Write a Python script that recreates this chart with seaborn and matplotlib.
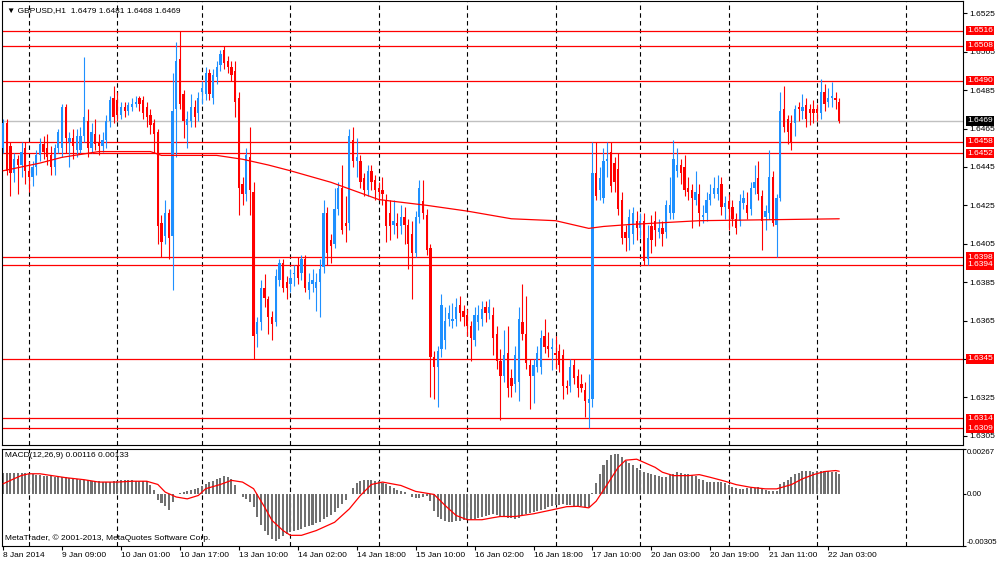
import matplotlib
matplotlib.use("Agg")
import numpy as np
import pandas as pd
import matplotlib.pyplot as plt
import seaborn as sns

# GBPUSD H1 candles, one entry per hourly bar (8 Jan 17:00 .. 22 Jan 07:00)
opens = [
    1.6455, 1.6468, 1.6456, 1.6442, 1.6449, 1.6446, 1.6455, 1.6443, 1.6440, 1.6445,
    1.6451, 1.6457, 1.6455, 1.6451, 1.6445, 1.6455, 1.6455, 1.6476, 1.6458, 1.6460,
    1.6454, 1.6454, 1.6461, 1.6469, 1.6455, 1.6462, 1.6458, 1.6456, 1.6459, 1.6469,
    1.6481, 1.6480, 1.6472, 1.6476, 1.6474, 1.6476, 1.6478, 1.6481, 1.6480, 1.6476,
    1.6472, 1.6468, 1.6463, 1.6416, 1.6409, 1.6421, 1.6409, 1.6475, 1.6501, 1.6483,
    1.6467, 1.6469, 1.6476, 1.6473, 1.6484, 1.6483, 1.6494, 1.6481, 1.6492, 1.6498,
    1.6506, 1.6500, 1.6497, 1.6495, 1.6481, 1.6436, 1.6431, 1.6450, 1.6432, 1.6358,
    1.6364, 1.6382, 1.6376, 1.6367, 1.6364, 1.6386, 1.6395, 1.6385, 1.6384, 1.6389,
    1.6394, 1.6390, 1.6397, 1.6381, 1.6384, 1.6382, 1.6385, 1.6393, 1.6421, 1.6407,
    1.6405, 1.6423, 1.6434, 1.6416, 1.6416, 1.6459, 1.6448, 1.6448, 1.6439, 1.6433,
    1.6443, 1.6438, 1.6434, 1.6433, 1.6428, 1.6421, 1.6415, 1.6416, 1.6414, 1.6419,
    1.6415, 1.6410, 1.6400, 1.6419, 1.6427, 1.6420, 1.6403, 1.6346, 1.6341, 1.6350,
    1.6355, 1.6366, 1.6365, 1.6366, 1.6373, 1.6370, 1.6368, 1.6362, 1.6355, 1.6364,
    1.6366, 1.6372, 1.6369, 1.6368, 1.6358, 1.6344, 1.6336, 1.6348, 1.6335, 1.6332,
    1.6333, 1.6364, 1.6358, 1.6342, 1.6336, 1.6341, 1.6341, 1.6357, 1.6352, 1.6350,
    1.6348, 1.6349, 1.6347, 1.6331, 1.6331, 1.6342, 1.6336, 1.6332, 1.6329, 1.6322,
    1.6324, 1.6442, 1.6433, 1.6429, 1.6448, 1.6453, 1.6447, 1.6444, 1.6428, 1.6411,
    1.6408, 1.6410, 1.6417, 1.6413, 1.6417, 1.6397, 1.6414, 1.6417, 1.6411, 1.6413,
    1.6411, 1.6421, 1.6421, 1.6443, 1.6446, 1.6445, 1.6434, 1.6433, 1.6428, 1.6431,
    1.6419, 1.6421, 1.6428, 1.6431, 1.6431, 1.6436, 1.6424, 1.6427, 1.6424, 1.6418,
    1.6417, 1.6426, 1.6425, 1.6423, 1.6434, 1.6439, 1.6430, 1.6419, 1.6421, 1.6440,
    1.6415, 1.6429, 1.6475, 1.6470, 1.6468, 1.6468, 1.6476, 1.6474, 1.6477, 1.6475,
    1.6475, 1.6475, 1.6473, 1.6484, 1.6479, 1.6481, 1.6481, 1.6479,
]
highs = [
    1.6470, 1.6470, 1.6458, 1.6452, 1.6451, 1.6458, 1.6458, 1.6448, 1.6448, 1.6454,
    1.6460, 1.6461, 1.6462, 1.6456, 1.6457, 1.6465, 1.6478, 1.6478, 1.6463, 1.6465,
    1.6465, 1.6466, 1.6502, 1.6475, 1.6468, 1.6470, 1.6462, 1.6463, 1.6472, 1.6482,
    1.6487, 1.6484, 1.6479, 1.6479, 1.6479, 1.6481, 1.6482, 1.6482, 1.6482, 1.6479,
    1.6475, 1.6470, 1.6465, 1.6420, 1.6428, 1.6423, 1.6494, 1.6510, 1.6516, 1.6485,
    1.6474, 1.6483, 1.6480, 1.6484, 1.6490, 1.6497, 1.6496, 1.6496, 1.6500, 1.6506,
    1.6508, 1.6503, 1.6500, 1.6500, 1.6484, 1.6440, 1.6455, 1.6466, 1.6437, 1.6367,
    1.6386, 1.6389, 1.6378, 1.6370, 1.6392, 1.6397, 1.6397, 1.6388, 1.6392, 1.6394,
    1.6398, 1.6399, 1.6399, 1.6390, 1.6392, 1.6390, 1.6397, 1.6428, 1.6424, 1.6410,
    1.6434, 1.6437, 1.6446, 1.6430, 1.6465, 1.6466, 1.6460, 1.6451, 1.6442, 1.6446,
    1.6446, 1.6441, 1.6437, 1.6440, 1.6431, 1.6428, 1.6428, 1.6421, 1.6425, 1.6424,
    1.6418, 1.6417, 1.6422, 1.6438, 1.6438, 1.6423, 1.6405, 1.6349, 1.6352, 1.6379,
    1.6372, 1.6373, 1.6374, 1.6377, 1.6378, 1.6373, 1.6371, 1.6365, 1.6372, 1.6373,
    1.6375, 1.6375, 1.6376, 1.6372, 1.6362, 1.6350, 1.6360, 1.6362, 1.6340, 1.6352,
    1.6372, 1.6384, 1.6378, 1.6345, 1.6345, 1.6352, 1.6360, 1.6366, 1.6359, 1.6356,
    1.6357, 1.6353, 1.6350, 1.6334, 1.6345, 1.6345, 1.6340, 1.6337, 1.6333, 1.6337,
    1.6458, 1.6458, 1.6445, 1.6455, 1.6458, 1.6458, 1.6450, 1.6452, 1.6432, 1.6415,
    1.6423, 1.6424, 1.6422, 1.6421, 1.6421, 1.6415, 1.6420, 1.6422, 1.6418, 1.6417,
    1.6428, 1.6440, 1.6459, 1.6455, 1.6449, 1.6451, 1.6440, 1.6436, 1.6443, 1.6436,
    1.6425, 1.6432, 1.6436, 1.6440, 1.6441, 1.6440, 1.6430, 1.6431, 1.6428, 1.6421,
    1.6431, 1.6433, 1.6432, 1.6437, 1.6446, 1.6448, 1.6433, 1.6425, 1.6454, 1.6443,
    1.6431, 1.6484, 1.6487, 1.6472, 1.6472, 1.6477, 1.6479, 1.6483, 1.6481, 1.6478,
    1.6480, 1.6478, 1.6491, 1.6488, 1.6486, 1.6489, 1.6484, 1.6481,
]
lows = [
    1.6452, 1.6441, 1.6430, 1.6437, 1.6431, 1.6440, 1.6436, 1.6432, 1.6435, 1.6441,
    1.6448, 1.6449, 1.6446, 1.6441, 1.6441, 1.6452, 1.6450, 1.6452, 1.6445, 1.6449,
    1.6450, 1.6452, 1.6458, 1.6450, 1.6452, 1.6454, 1.6451, 1.6453, 1.6455, 1.6466,
    1.6468, 1.6469, 1.6470, 1.6471, 1.6472, 1.6474, 1.6476, 1.6474, 1.6470, 1.6466,
    1.6462, 1.6452, 1.6405, 1.6398, 1.6405, 1.6397, 1.6381, 1.6450, 1.6475, 1.6460,
    1.6455, 1.6466, 1.6466, 1.6469, 1.6478, 1.6480, 1.6480, 1.6478, 1.6488, 1.6495,
    1.6496, 1.6494, 1.6490, 1.6471, 1.6420, 1.6425, 1.6427, 1.6420, 1.6345, 1.6351,
    1.6360, 1.6372, 1.6358, 1.6355, 1.6362, 1.6383, 1.6380, 1.6376, 1.6380, 1.6383,
    1.6384, 1.6386, 1.6380, 1.6376, 1.6380, 1.6370, 1.6367, 1.6390, 1.6394, 1.6395,
    1.6403, 1.6420, 1.6410, 1.6406, 1.6412, 1.6445, 1.6440, 1.6434, 1.6430, 1.6430,
    1.6433, 1.6428, 1.6428, 1.6425, 1.6406, 1.6407, 1.6410, 1.6408, 1.6410, 1.6405,
    1.6392, 1.6376, 1.6398, 1.6416, 1.6418, 1.6399, 1.6325, 1.6324, 1.6320, 1.6346,
    1.6350, 1.6362, 1.6361, 1.6362, 1.6365, 1.6362, 1.6357, 1.6344, 1.6352, 1.6360,
    1.6362, 1.6364, 1.6366, 1.6347, 1.6340, 1.6313, 1.6333, 1.6325, 1.6325, 1.6328,
    1.6323, 1.6355, 1.6340, 1.6319, 1.6322, 1.6338, 1.6337, 1.6348, 1.6346, 1.6339,
    1.6340, 1.6338, 1.6324, 1.6327, 1.6328, 1.6332, 1.6325, 1.6328, 1.6315, 1.6309,
    1.6320, 1.6428, 1.6428, 1.6426, 1.6440, 1.6432, 1.6432, 1.6420, 1.6405, 1.6401,
    1.6402, 1.6405, 1.6407, 1.6408, 1.6394, 1.6394, 1.6400, 1.6404, 1.6408, 1.6404,
    1.6408, 1.6418, 1.6418, 1.6440, 1.6436, 1.6430, 1.6428, 1.6413, 1.6425, 1.6414,
    1.6416, 1.6417, 1.6425, 1.6429, 1.6428, 1.6420, 1.6418, 1.6412, 1.6414, 1.6410,
    1.6414, 1.6423, 1.6418, 1.6420, 1.6431, 1.6428, 1.6402, 1.6412, 1.6418, 1.6414,
    1.6398, 1.6427, 1.6463, 1.6457, 1.6454, 1.6461, 1.6469, 1.6470, 1.6466, 1.6467,
    1.6468, 1.6469, 1.6470, 1.6474, 1.6476, 1.6476, 1.6475, 1.6468,
]
closes = [
    1.6468, 1.6443, 1.6442, 1.6449, 1.6446, 1.6453, 1.6443, 1.6440, 1.6445, 1.6451,
    1.6457, 1.6453, 1.6450, 1.6445, 1.6455, 1.6463, 1.6476, 1.6460, 1.6460, 1.6456,
    1.6461, 1.6461, 1.6471, 1.6455, 1.6463, 1.6457, 1.6456, 1.6459, 1.6469, 1.6480,
    1.6471, 1.6472, 1.6476, 1.6474, 1.6477, 1.6478, 1.6479, 1.6478, 1.6473, 1.6471,
    1.6467, 1.6462, 1.6414, 1.6406, 1.6421, 1.6408, 1.6474, 1.6500, 1.6478, 1.6469,
    1.6470, 1.6476, 1.6471, 1.6481, 1.6486, 1.6494, 1.6483, 1.6493, 1.6497, 1.6504,
    1.6499, 1.6497, 1.6493, 1.6479, 1.6434, 1.6431, 1.6451, 1.6433, 1.6357, 1.6364,
    1.6382, 1.6377, 1.6367, 1.6363, 1.6388, 1.6395, 1.6382, 1.6382, 1.6387, 1.6390,
    1.6387, 1.6397, 1.6382, 1.6385, 1.6386, 1.6385, 1.6392, 1.6421, 1.6400, 1.6404,
    1.6423, 1.6434, 1.6412, 1.6414, 1.6461, 1.6448, 1.6450, 1.6437, 1.6433, 1.6443,
    1.6437, 1.6433, 1.6432, 1.6431, 1.6414, 1.6414, 1.6417, 1.6414, 1.6419, 1.6415,
    1.6405, 1.6400, 1.6419, 1.6434, 1.6421, 1.6402, 1.6346, 1.6341, 1.6349, 1.6373,
    1.6365, 1.6369, 1.6366, 1.6372, 1.6369, 1.6367, 1.6362, 1.6356, 1.6368, 1.6368,
    1.6371, 1.6369, 1.6372, 1.6356, 1.6344, 1.6336, 1.6347, 1.6330, 1.6331, 1.6347,
    1.6366, 1.6358, 1.6343, 1.6336, 1.6342, 1.6348, 1.6356, 1.6351, 1.6350, 1.6351,
    1.6347, 1.6342, 1.6331, 1.6330, 1.6341, 1.6335, 1.6330, 1.6330, 1.6323, 1.6324,
    1.6442, 1.6430, 1.6439, 1.6448, 1.6449, 1.6435, 1.6437, 1.6423, 1.6408, 1.6408,
    1.6419, 1.6421, 1.6413, 1.6417, 1.6396, 1.6408, 1.6407, 1.6412, 1.6413, 1.6410,
    1.6425, 1.6425, 1.6449, 1.6446, 1.6442, 1.6433, 1.6432, 1.6429, 1.6432, 1.6421,
    1.6420, 1.6428, 1.6431, 1.6434, 1.6434, 1.6424, 1.6426, 1.6423, 1.6418, 1.6413,
    1.6427, 1.6429, 1.6421, 1.6434, 1.6437, 1.6431, 1.6417, 1.6422, 1.6440, 1.6416,
    1.6429, 1.6474, 1.6466, 1.6463, 1.6458, 1.6475, 1.6475, 1.6476, 1.6470, 1.6473,
    1.6473, 1.6473, 1.6484, 1.6478, 1.6481, 1.6482, 1.6480, 1.6469,
]

# moving average (red line on the price chart), read at a few bars
ma_bars = [0, 10, 16, 26, 40, 43, 58, 65, 72, 78, 89, 102, 115, 126, 138, 150, 159, 163, 170, 189, 227]
ma_values = [1.6443, 1.6447, 1.6450, 1.6453, 1.6453, 1.6451, 1.6451, 1.6449, 1.6446, 1.6443, 1.6437,
             1.6428, 1.6425, 1.6422, 1.6418, 1.6417, 1.6413, 1.6414, 1.6415, 1.6417, 1.6418]

# MACD(12,26,9) histogram, one value per bar
macd_hist = [
    0.00124, 0.00124, 0.00124, 0.00124, 0.00124, 0.00124, 0.00120, 0.00118, 0.00117, 0.00113,
    0.00108, 0.00106, 0.00103, 0.00102, 0.00100, 0.00098, 0.00097, 0.00096, 0.00095, 0.00090,
    0.00085, 0.00082, 0.00080, 0.00079, 0.00077, 0.00074, 0.00073, 0.00071, 0.00069, 0.00069,
    0.00073, 0.00078, 0.00079, 0.00079, 0.00080, 0.00079, 0.00078, 0.00077, 0.00076, 0.00073,
    0.00051, 0.00025, -0.00034, -0.00055, -0.00072, -0.00098, -0.00049, -0.00004, 0.00004, 0.00013,
    0.00017, 0.00022, 0.00027, 0.00036, 0.00047, 0.00059, 0.00068, 0.00074, 0.00085, 0.00095,
    0.00102, 0.00100, 0.00089, 0.00051, -0.00004, -0.00021, -0.00030, -0.00051, -0.00076, -0.00135,
    -0.00182, -0.00220, -0.00245, -0.00266, -0.00279, -0.00266, -0.00250, -0.00237, -0.00228, -0.00222,
    -0.00215, -0.00207, -0.00198, -0.00190, -0.00182, -0.00174, -0.00166, -0.00148, -0.00135, -0.00123,
    -0.00106, -0.00085, -0.00059, -0.00034, 0.00000, 0.00034, 0.00063, 0.00074, 0.00079, 0.00080,
    0.00079, 0.00078, 0.00074, 0.00066, 0.00058, 0.00047, 0.00036, 0.00024, 0.00017, 0.00010,
    -0.00004, -0.00017, -0.00022, -0.00024, -0.00019, -0.00016, -0.00042, -0.00102, -0.00135, -0.00151,
    -0.00161, -0.00165, -0.00168, -0.00162, -0.00158, -0.00157, -0.00157, -0.00154, -0.00149, -0.00142,
    -0.00135, -0.00129, -0.00124, -0.00120, -0.00125, -0.00132, -0.00135, -0.00140, -0.00144, -0.00147,
    -0.00140, -0.00127, -0.00118, -0.00112, -0.00108, -0.00103, -0.00096, -0.00089, -0.00080, -0.00074,
    -0.00069, -0.00065, -0.00063, -0.00066, -0.00069, -0.00070, -0.00073, -0.00074, -0.00076, -0.00079,
    0.00003, 0.00063, 0.00118, 0.00167, 0.00200, 0.00226, 0.00236, 0.00232, 0.00217, 0.00193,
    0.00181, 0.00167, 0.00153, 0.00141, 0.00128, 0.00122, 0.00114, 0.00108, 0.00102, 0.00098,
    0.00098, 0.00108, 0.00118, 0.00128, 0.00122, 0.00118, 0.00114, 0.00108, 0.00102, 0.00089,
    0.00079, 0.00069, 0.00069, 0.00069, 0.00069, 0.00069, 0.00063, 0.00049, 0.00039, 0.00036,
    0.00030, 0.00030, 0.00033, 0.00036, 0.00036, 0.00039, 0.00030, 0.00024, 0.00019, 0.00019,
    0.00016, 0.00055, 0.00069, 0.00083, 0.00098, 0.00114, 0.00122, 0.00134, 0.00134, 0.00134,
    0.00128, 0.00134, 0.00134, 0.00134, 0.00134, 0.00128, 0.00128, 0.00116,
]
# MACD signal line, read at a set of bars
signal_bars = [0, 3, 5, 7, 10, 13, 17, 22, 26, 31, 35, 39, 42, 44, 47, 50, 53, 55, 59, 62, 65, 68,
               71, 73, 76, 78, 81, 85, 90, 94, 97, 100, 103, 108, 112, 117, 120, 123, 126, 130, 133,
               135, 139, 144, 149, 153, 156, 159, 161, 164, 167, 169, 172, 174, 177, 179, 182, 186,
               189, 192, 196, 199, 203, 207, 210, 214, 217, 220, 223, 226, 227]
signal_values = [0.00059, 0.00089, 0.00108, 0.00118, 0.00118, 0.00108, 0.00095, 0.00083, 0.00069,
                 0.00069, 0.00074, 0.00074, 0.00055, 0.00010, -0.00019, -0.00030, -0.00010, 0.00030,
                 0.00055, 0.00079, 0.00069, 0.00030, -0.00079, -0.00157, -0.00217, -0.00245, -0.00245,
                 -0.00217, -0.00168, -0.00089, -0.00010, 0.00055, 0.00069, 0.00049, 0.00014, -0.00004,
                 -0.00069, -0.00128, -0.00153, -0.00153, -0.00141, -0.00134, -0.00134, -0.00118,
                 -0.00095, -0.00076, -0.00074, -0.00083, -0.00044, 0.00055, 0.00156, 0.00198, 0.00204,
                 0.00185, 0.00156, 0.00127, 0.00107, 0.00107, 0.00113, 0.00097, 0.00074, 0.00054,
                 0.00038, 0.00029, 0.00029, 0.00054, 0.00088, 0.00113, 0.00131, 0.00137, 0.00133]

# horizontal support / resistance levels and current bid
levels = [1.6516, 1.6508, 1.6490, 1.6458, 1.6452, 1.6398, 1.6394, 1.6345, 1.6314, 1.6309]
bid = 1.6469
price_ticks = [1.6525, 1.6505, 1.6485, 1.6465, 1.6445, 1.6425, 1.6405, 1.6385, 1.6365, 1.6345, 1.6325, 1.6305]

# time axis: bar index of each day start and of each time label
day_starts = [7, 31, 54, 78, 102, 126, 150, 173, 197, 221, 245]
time_label_bars = [0, 16, 32, 48, 64, 80, 96, 112, 128, 144, 160, 176, 192, 208, 224]
time_labels = ["8 Jan 2014", "9 Jan 09:00", "10 Jan 01:00", "10 Jan 17:00", "13 Jan 10:00",
               "14 Jan 02:00", "14 Jan 18:00", "15 Jan 10:00", "16 Jan 02:00", "16 Jan 18:00",
               "17 Jan 10:00", "20 Jan 03:00", "20 Jan 19:00", "21 Jan 11:00", "22 Jan 03:00"]

sns.set_style("white")
plt.rcParams['font.family'] = ['Liberation Sans', 'DejaVu Sans']
fs = 6

df = pd.DataFrame({'open': opens, 'high': highs, 'low': lows, 'close': closes})
df['bar'] = np.arange(len(df))
up = df['close'] >= df['open']
colors = np.where(up, '#1E90FF', '#FF0000')

fig = plt.figure(figsize=(10, 5.62), dpi=100)
ax = fig.add_axes([0.002, 1 - 445 / 562, 0.961, 444 / 562])
ax2 = fig.add_axes([0.002, 1 - 545.5 / 562, 0.961, 97 / 562])

# price panel
for d in day_starts:
    ax.axvline(d, color='black', lw=0.8, ls=(0, (4, 3)), zorder=0)
ax.axhline(bid, color='#C0C0C0', lw=1, zorder=1)
for lv in levels:
    ax.axhline(lv, color='#FF0000', lw=0.9, zorder=1)

ax.vlines(df['bar'], df['low'], df['high'], colors=colors, lw=0.8, zorder=2)
ax.bar(df['bar'], (df['close'] - df['open']).abs(), bottom=df[['open', 'close']].min(axis=1),
       width=0.62, color=colors, linewidth=0, zorder=3)
sns.lineplot(x=ma_bars, y=ma_values, ax=ax, color='#FF0000', lw=0.9, zorder=4)

ax.set_xlim(-0.3, 260.6)
ax.set_ylim(1.63002, 1.65314)
ax.set_xticks([])
ax.yaxis.tick_right()
ax.set_yticks(price_ticks)
# the 1.6345 tick label sits under the 1.6345 level box, as in the terminal
ax.set_yticklabels(["" if any(abs(p - lv) < 1e-6 for lv in levels) else f"{p:.4f}" for p in price_ticks])
ax.tick_params(axis='y', right=True, direction='out', length=3, width=0.8, pad=1.5,
               labelsize=fs, colors='black')
ax.set_xlabel('')
ax.set_ylabel('')

for lv in levels:
    ax.text(1.0042, lv, f"{lv:.4f}", transform=ax.get_yaxis_transform(), ha='left', va='center',
            color='white', fontsize=fs, clip_on=False, zorder=10,
            bbox=dict(boxstyle='square,pad=0.15', fc='#FF0000', ec='none'))
ax.text(1.0042, bid, f"{bid:.4f}", transform=ax.get_yaxis_transform(), ha='left', va='center',
        color='white', fontsize=fs, clip_on=False, zorder=10,
        bbox=dict(boxstyle='square,pad=0.15', fc='black', ec='none'))

ax.text(0.005, 0.979, "\u25BC GBPUSD,H1  1.6479 1.6481 1.6468 1.6469", transform=ax.transAxes,
        ha='left', va='center', fontsize=fs, color='black')

# MACD panel
for d in day_starts:
    ax2.axvline(d, color='black', lw=0.8, ls=(0, (4, 3)), zorder=0)
ax2.bar(df['bar'], macd_hist, width=0.55, color='#707070', linewidth=0, zorder=2)
sns.lineplot(x=signal_bars, y=signal_values, ax=ax2, color='#FF0000', lw=0.9, zorder=3)

ax2.set_xlim(-0.3, 260.6)
ax2.set_ylim(-0.00305, 0.00267)
ax2.yaxis.tick_right()
ax2.set_yticks([-0.00305, 0.0, 0.00267])
ax2.set_yticklabels(["-0.00305", "0.00", "0.00267"])
ylbls = ax2.get_yticklabels()
ylbls[0].set_va('bottom')
ylbls[2].set_va('top')
ax2.tick_params(axis='y', right=True, direction='out', length=2, width=0.8, pad=0.8,
                labelsize=5.7, colors='black')
ax2.set_xticks(time_label_bars)
ax2.set_xticklabels(time_labels)
for lbl in ax2.get_xticklabels():
    lbl.set_ha('left')
ax2.tick_params(axis='x', bottom=True, direction='out', length=3, width=0.8, pad=1.5,
                labelsize=fs, colors='black')
ax2.set_xlabel('')
ax2.set_ylabel('')

ax2.text(0.003, 0.923, "MACD(12,26,9) 0.00116 0.00133", transform=ax2.transAxes,
         ha='left', va='center', fontsize=fs, color='black')
ax2.text(0.003, 0.077, "MetaTrader, \u00A9 2001-2013, MetaQuotes Software Corp.", transform=ax2.transAxes,
         ha='left', va='center', fontsize=fs, color='black')

for a in (ax, ax2):
    for sp in a.spines.values():
        sp.set_visible(True)
        sp.set_color('black')
        sp.set_linewidth(0.8)

fig.savefig("out.png", dpi=100, facecolor='white')
